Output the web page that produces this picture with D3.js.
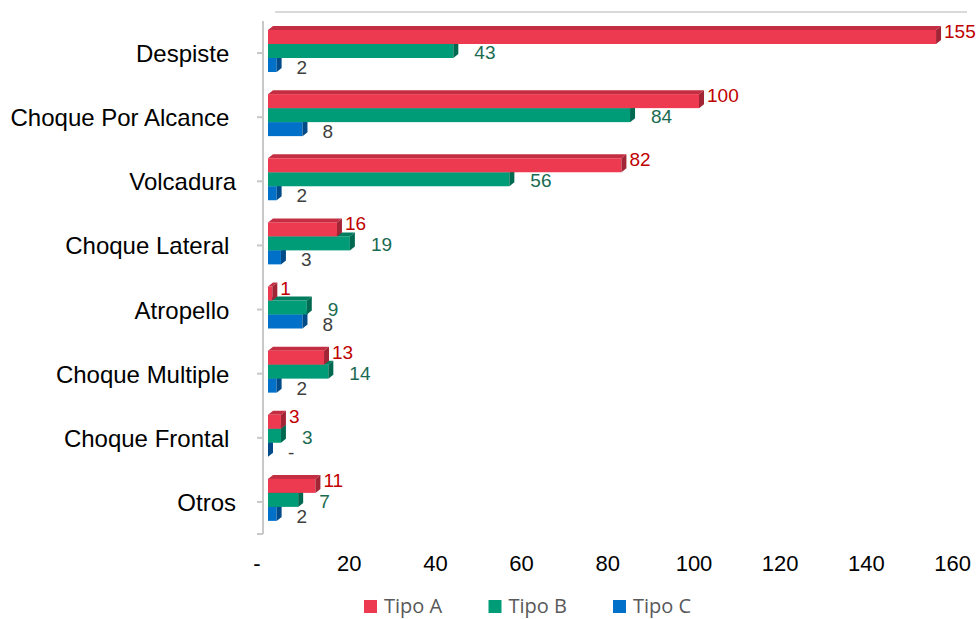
<!DOCTYPE html>
<html><head><meta charset="utf-8">
<script src="https://cdn.jsdelivr.net/npm/d3@7"></script>
<style>
html,body{margin:0;padding:0;background:#fff;}
svg{display:block;}
text{white-space:pre;}
</style></head>
<body>
<svg id="chart" width="976" height="619"></svg>
<script>
const categories = ["Despiste ", "Choque Por Alcance ", "Volcadura", "Choque Lateral ", "Atropello ", "Choque Multiple ", "Choque Frontal ", "Otros"];
const seriesNames = ["Tipo A", "Tipo B", "Tipo C"];
const tipoA = [155, 100, 82, 16, 1, 13, 3, 11];
const tipoB = [43, 84, 56, 19, 9, 14, 3, 7];
const tipoC = [2, 8, 2, 3, 8, 2, 0, 2];
const xTicks = [0, 20, 40, 60, 80, 100, 120, 140, 160];

const seriesValues = [tipoA, tipoB, tipoC];
const style = {
  "Tipo A": {front: "#EE3A50", top: "#C42E42", side: "#A22536", label: "#C00000", dx: 8, dy: 1},
  "Tipo B": {front: "#009B77", top: "#007C5F", side: "#006A50", label: "#1A6B51", dx: 21, dy: 8},
  "Tipo C": {front: "#0070C9", top: "#005AA2", side: "#004B88", label: "#404040", dx: 20, dy: 9}
};
const depthX = 5, depthY = 4;
const fmt = v => v === 0 ? "-\u2007" : String(v);
const fmtLabel = v => v === 0 ? "-" : String(v);

const svg = d3.select("#chart");
const x = d3.scaleLinear().domain([0, 160]).range([268, 957.6]);
const y = d3.scaleBand().domain(categories).range([21, 534]);
const ys = d3.scaleBand().domain(seriesNames).range([9, 51]);

// back wall top edge
svg.append("line").attr("x1", 275).attr("x2", 967).attr("y1", 12).attr("y2", 12)
  .attr("stroke", "#D9D9D9").attr("stroke-width", 2);

// vertical axis
const axisX = 263;
svg.append("line").attr("x1", axisX).attr("x2", axisX).attr("y1", y.range()[0]).attr("y2", y.range()[1])
  .attr("stroke", "#C8C8C8").attr("stroke-width", 2);
const tickYs = categories.map(c => y(c) + y.bandwidth() / 2).concat([y.range()[1]]);
svg.selectAll(".ytick").data(tickYs).join("line")
  .attr("x1", axisX - 6).attr("x2", axisX).attr("y1", d => d).attr("y2", d => d)
  .attr("stroke", "#C8C8C8").attr("stroke-width", 2);

// category labels
svg.selectAll(".cat").data(categories).join("text")
  .attr("x", 236).attr("y", d => y(d) + y.bandwidth() / 2 + 9)
  .attr("text-anchor", "end")
  .attr("font-family", "Liberation Sans, Arial, sans-serif").attr("font-size", 24)
  .attr("fill", "#000").text(d => d);

// x tick labels
svg.selectAll(".xt").data(xTicks).join("text")
  .attr("x", d => x(d) - 5).attr("y", 571)
  .attr("text-anchor", "middle")
  .attr("font-family", "Liberation Sans, Arial, sans-serif").attr("font-size", 22)
  .attr("fill", "#000").text(fmt);

// bars (draw lower series first so upper bars cover their top faces)
const groups = svg.selectAll(".grp").data(categories).join("g")
  .attr("transform", d => `translate(0,${y(d)})`);

const order = seriesNames.slice().reverse();
groups.each(function(cat, ci) {
  const g = d3.select(this);
  order.forEach(s => {
    const si = seriesNames.indexOf(s);
    const v = seriesValues[si][ci];
    const st = style[s];
    const x0 = x(0), x1 = x(v), yy = ys(s), h = ys.bandwidth();
    g.append("polygon")
      .attr("points", [[x0, yy], [x1, yy], [x1 + depthX, yy - depthY], [x0 + depthX, yy - depthY]].map(p => p.join(",")).join(" "))
      .attr("fill", st.top);
    g.append("rect").attr("x", x0).attr("y", yy).attr("width", Math.max(0, x1 - x0)).attr("height", h)
      .attr("fill", st.front);
    g.append("polygon")
      .attr("points", [[x1, yy], [x1 + depthX, yy - depthY], [x1 + depthX, yy + h - depthY], [x1, yy + h]].map(p => p.join(",")).join(" "))
      .attr("fill", st.side);
  });
});

// value labels
groups.each(function(cat, ci) {
  const g = d3.select(this);
  seriesNames.forEach((s, si) => {
    const v = seriesValues[si][ci];
    const st = style[s];
    g.append("text")
      .attr("x", x(v) + st.dx)
      .attr("y", ys(s) + ys.bandwidth() / 2 + st.dy)
      .attr("font-family", "Liberation Sans, Arial, sans-serif").attr("font-size", 19)
      .attr("fill", st.label).text(fmtLabel(v));
  });
});

// legend
const lx = d3.scalePoint().domain(seriesNames).range([364, 613]);
const leg = svg.selectAll(".leg").data(seriesNames).join("g")
  .attr("transform", d => `translate(${lx(d)},600)`);
leg.append("rect").attr("width", 13).attr("height", 13).attr("fill", d => style[d].front);
leg.append("text").attr("x", 20).attr("y", 13)
  .attr("font-family", "Open Sans, Noto Sans, sans-serif").attr("font-size", 20)
  .attr("fill", "#595959").text(d => d);
</script>
</body></html>
